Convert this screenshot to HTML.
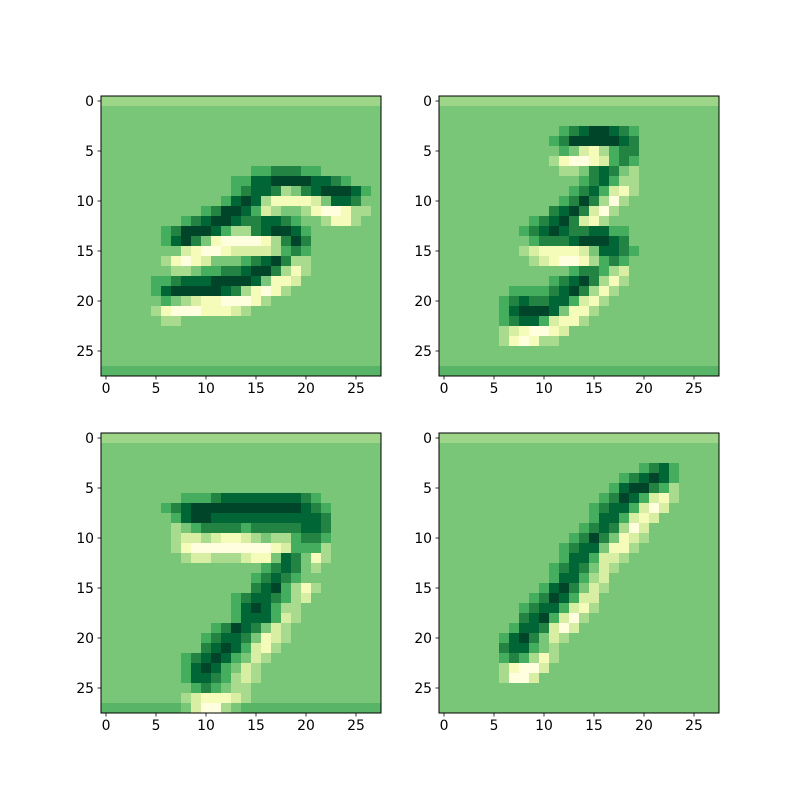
<!DOCTYPE html>
<html><head><meta charset="utf-8"><style>
html,body{margin:0;padding:0;background:#fff;}
svg text{font-family:"DejaVu Sans","Liberation Sans",sans-serif;font-size:13.9px;fill:#000;}
</style></head><body>
<svg id="fig" width="800" height="800" viewBox="0 0 800 800" xmlns="http://www.w3.org/2000/svg"></svg>
<script>
const B="4444444444444444444444444444";
const T="tttttttttttttttttttttttttttt";
const BT="bbbbbbbbbbbbbbbbbbbbbbbbbbbb";
const img0=[T,B,B,B,B,B,B,
"444444444444444"+"55666554"+"44444",
"4444444444444"+"557788887765"+"444",
"444444444444"+"456776346788875"+"4",
"444444444444"+"57873111124776"+"44",
"4444444444"+"56887523443100133"+"4",
"44444444"+"567887667765443113"+"44",
"444444"+"5688875336788754"+"444444",
"444444"+"578641000013686"+"4444444",
"44444444"+"2100122223565"+"4444444",
"444444"+"310124445678633"+"4444444",
"4444444"+"33455667886313"+"4444444",
"44444"+"556777888874112"+"44444444",
"44444"+"57888887631013"+"444444444",
"44444"+"454321100013"+"44444444444",
"44444"+"3100011123"+"4444444444444",
"444444"+"33"+"44444444444444444444",
B,B,B,B,BT];
const img1=[T,B,B,
"44444444444"+"456788765"+"44444444",
"44444444444"+"568888876"+"44444444",
"44444444444"+"454213566"+"44444444",
"44444444444"+"310012565"+"44444444",
"44444444444"+"433467643"+"44444444",
"44444444444444"+"567533"+"44444444",
"444444444444"+"45675213"+"44444444",
"444444444444"+"56863034"+"44444444",
"4444444444"+"467862034"+"444444444",
"444444444"+"567862134"+"4444444444",
"44444444"+"567876677554"+"44444444",
"44444444"+"456667888764"+"44444444",
"44444444"+"321111247765"+"44444444",
"44444444"+"432100135654"+"44444444",
"444444444444"+"45665324"+"44444444",
"44444444444"+"567863134"+"44444444",
"444444"+"455556786313"+"4444444444",
"444444"+"567667752134"+"4444444444",
"444444"+"57888741134"+"44444444444",
"444444"+"5677521134"+"444444444444",
"444444"+"32100124"+"44444444444444",
"444444"+"3101334"+"444444444444444",
B,B,BT];
const img2=[T,B,B,B,B,B,
"4444444"+"455567777777765"+"444444",
"444444"+"56788888888888765"+"44444",
"444444"+"45788777777777776"+"44444",
"444444"+"43456666566666776"+"44444",
"4444444"+"3223211234335665"+"44444",
"4444444"+"3100000000125553"+"44444",
"4444444"+"4322333211476413"+"44444",
"444444444444444"+"45676434"+"44444",
"444444444444444"+"567654"+"4444444",
"4444444444444"+"446785313"+"444444",
"4444444444444"+"567765324"+"444444",
"4444444444444"+"5787533"+"44444444",
"44444444444"+"445777523"+"44444444",
"44444444444"+"568764234"+"44444444",
"4444444444"+"567764123"+"444444444",
"444444444"+"467875213"+"4444444444",
"44444444"+"567875423"+"44444444444",
"4444444"+"457875423"+"444444444444",
"4444444"+"457765323"+"444444444444",
"4444444"+"44565433"+"4444444444444",
"44444444"+"3211123"+"4444444444444",
"bbbbbbbb"+"420034"+"bbbbbbbbbbbbbb"];
const img3=[T,B,B,
"4444444444444444444"+"45675"+"4444",
"44444444444444444"+"4567875"+"4444",
"44444444444444444"+"5788653"+"4444",
"444444444444444"+"456875213"+"4444",
"444444444444444"+"56775202"+"44444",
"44444444444444"+"457752124"+"44444",
"4444444444444"+"45676302"+"4444444",
"4444444444444"+"56864123"+"4444444",
"444444444444"+"56774113"+"44444444",
"444444444444"+"5775223"+"444444444",
"44444444444"+"5676423"+"4444444444",
"4444444444"+"45775324"+"4444444444",
"444444444"+"45786423"+"44444444444",
"444444444"+"5687522"+"444444444444",
"44444444"+"56775213"+"444444444444",
"4444444"+"467852034"+"444444444444",
"444444"+"457762024"+"4444444444444",
"44444"+"45786423"+"444444444444444",
"44444"+"46775434"+"444444444444444",
"44444"+"4565313"+"4444444444444444",
"44444"+"4310024"+"4444444444444444",
"44444"+"430024"+"44444444444444444",
B,B,B];
const images=[img0,img1,img2,img3];
const tickValues=[0,5,10,15,20,25];
const palette={"0":"#ffffe0","1":"#f5fbb9","2":"#d8efa3","3":"#a9db8e","4":"#79c679","5":"#44ae5e","6":"#228343","7":"#006636","8":"#004529","t":"#9dd589","b":"#58b466"};
const origins=[[101,96],[439,96],[101,433],[439,433]];
const cell=10;
const NS="http://www.w3.org/2000/svg";
const svg=document.getElementById('fig');
function mk(tag,attrs){const e=document.createElementNS(NS,tag);for(const k in attrs)e.setAttribute(k,attrs[k]);return e;}
images.forEach((im,p)=>{
  const [ox,oy]=origins[p];
  const g=mk('g',{});
  
  
  svg.appendChild(g);
  const xs=v=>ox+(v+0.5)*cell, ys=v=>oy+(v+0.5)*cell;
  im.forEach((row,r)=>{
    for(let c=0;c<row.length;c++){
      const rc=mk('rect',{x:ox+c*cell,y:oy+r*cell,width:cell+0.3,height:cell+0.3,fill:palette[row[c]]});
      
      
      g.appendChild(rc);
    }
  });
  const fr=mk('rect',{x:ox,y:oy,width:280,height:280,fill:'none',stroke:'#000','stroke-width':1});
  
  
  g.appendChild(fr);
  tickValues.forEach(v=>{
    const x=xs(v);
    g.appendChild(mk('line',{x1:x,y1:oy+280,x2:x,y2:oy+283.5,stroke:'#000','stroke-width':0.8}));
    const t=mk('text',{x:x,y:oy+297,'text-anchor':'middle'});t.textContent=v;
    
    
    g.appendChild(t);
    const y=ys(v);
    g.appendChild(mk('line',{x1:ox-3.5,y1:y,x2:ox,y2:y,stroke:'#000','stroke-width':0.8}));
    const t2=mk('text',{x:ox-7,y:y+5,'text-anchor':'end'});t2.textContent=v;
    
    
    g.appendChild(t2);
  });
});
</script>
</body></html>
